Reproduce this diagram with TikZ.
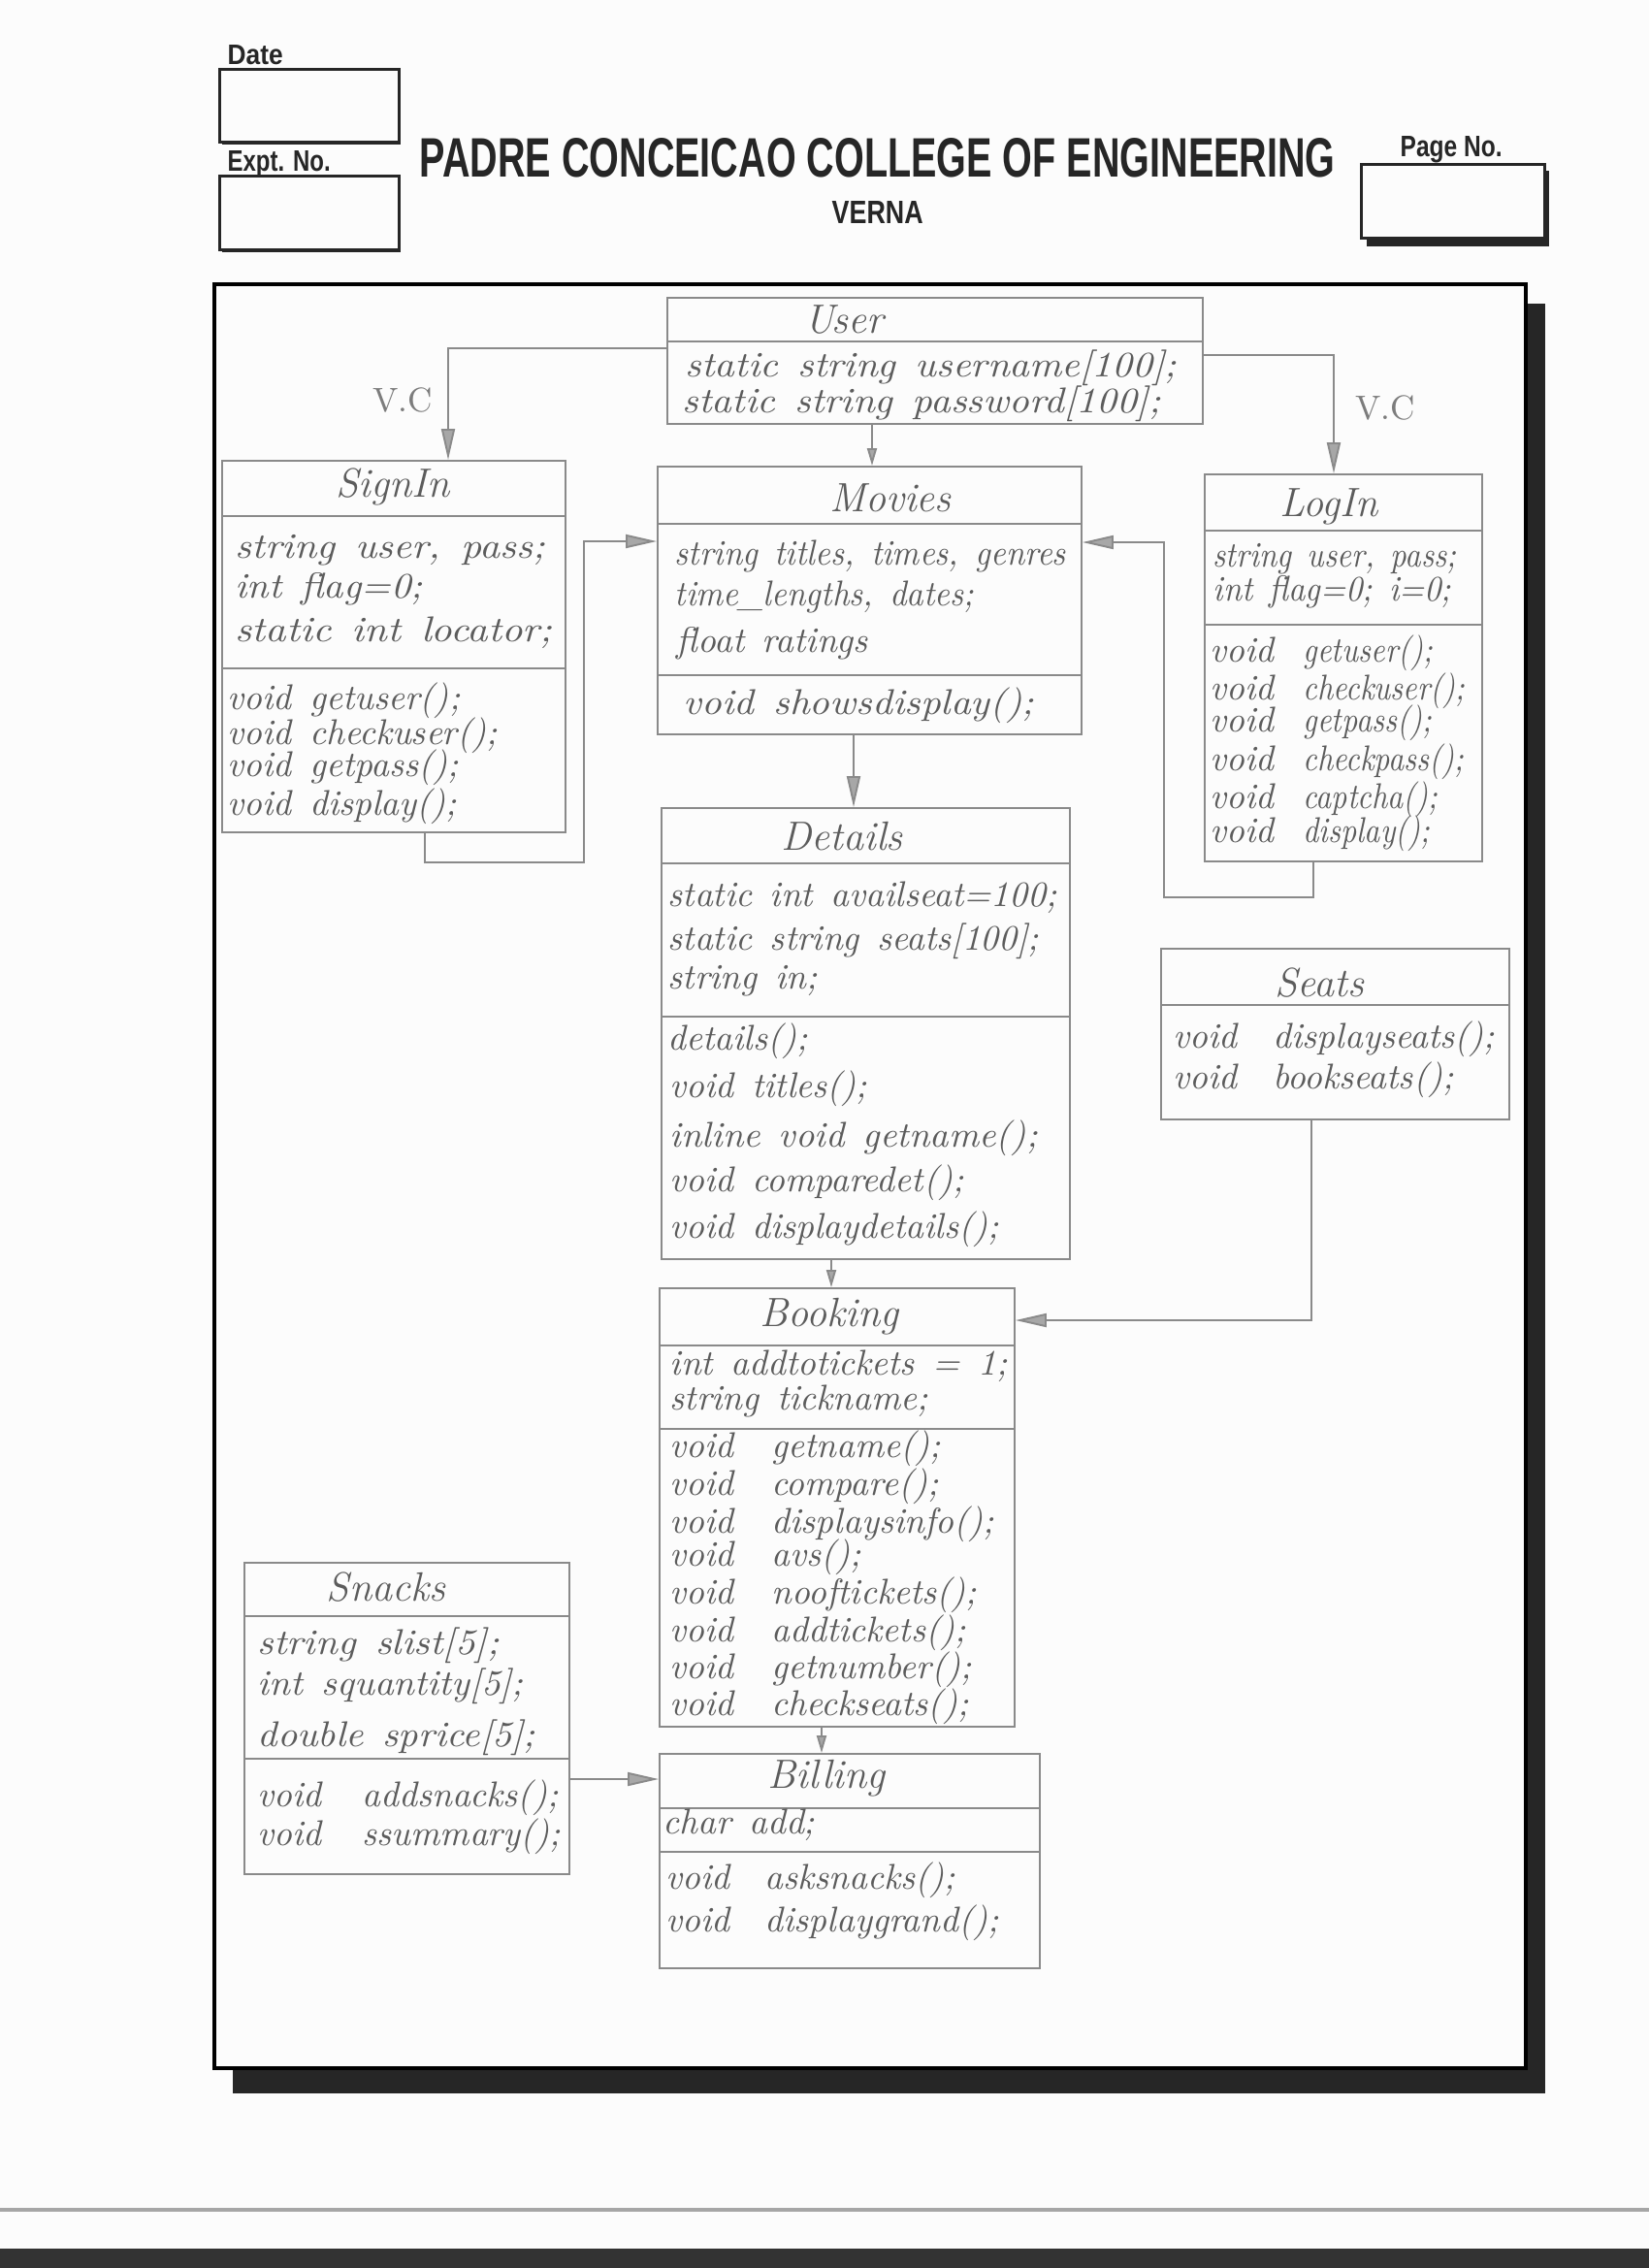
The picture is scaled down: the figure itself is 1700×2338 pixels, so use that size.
\documentclass[tikz,border=0pt]{standalone}
\usepackage{fontspec}
\newfontfamily\headfont{Liberation Sans}
\usetikzlibrary{arrows.meta}

\definecolor{pencil}{RGB}{138,138,138}
\definecolor{ink}{RGB}{92,92,92}
\definecolor{printink}{RGB}{38,38,38}
\definecolor{paper}{RGB}{252,252,252}

\newcommand\memberfont{\fontsize{10.5}{12}\selectfont\itshape\spaceskip=0.5em plus 0.1em\relax}
\newcommand\namefont{\fontsize{12}{13}\selectfont\itshape}
% fixed-width "void" column used in aligned method lists
\newcommand\vcol[1]{\makebox[#1][l]{void}}
% horizontal squeeze / stretch of one written line
\newcommand\hsq[2]{\scalebox{#1}[1]{#2}}

\tikzset{
  x=0.1mm, y=-0.1mm,
  pline/.style={draw=pencil, line width=0.55pt},
  classbox/.style={draw=pencil, line width=0.55pt, rectangle, inner sep=0pt, anchor=north west},
  member/.style={anchor=west, inner sep=0pt, text=ink, font=\memberfont, text height=2.3mm, text depth=0.7mm},
  cname/.style={anchor=center, inner sep=0pt, text=ink, font=\namefont},
  vclabel/.style={anchor=center, inner sep=0pt, text=pencil!90!black, font=\fontsize{10}{11}\selectfont},
  hdrbox/.style={draw=printink, line width=0.9pt, fill=paper, rectangle, inner sep=0pt, anchor=north west},
  hdrtext/.style={anchor=base west, inner sep=0pt, text=printink},
  assoc/.style={draw=pencil, line width=0.55pt,
    -{Triangle[length=3.2mm,width=1.4mm,fill=pencil!75,color=pencil]}},
  assocsmall/.style={draw=pencil, line width=0.55pt,
    -{Triangle[length=1.8mm,width=1.0mm,fill=pencil!75,color=pencil]}},
}

\begin{document}
\begin{tikzpicture}
% sheet
\fill[paper] (0,0) rectangle (1700,2338);
\useasboundingbox (0,0) rectangle (1700,2338);

% ---------- printed header ----------
\node[hdrtext] (datelbl) at (234,66) {\resizebox{5.7mm}{2.0mm}{\headfont\bfseries Date}};
\fill[printink] (229,74) rectangle (413,149);
\node[hdrbox, minimum width=18.5mm, minimum height=7.5mm] (datebox) at (225,70) {};
\node[hdrtext] (exptlbl) at (234,176) {\resizebox{10.6mm}{2.1mm}{\headfont\bfseries Expt. No.}};
\fill[printink] (229,184) rectangle (413,260);
\node[hdrbox, minimum width=18.5mm, minimum height=7.6mm] (exptbox) at (225,180) {};
\node[hdrtext] (college) at (432,182) {\resizebox{94.4mm}{4.0mm}{\headfont\bfseries PADRE CONCEICAO COLLEGE OF ENGINEERING}};
\node[hdrtext] (verna) at (857,230) {\resizebox{9.4mm}{2.3mm}{\headfont\bfseries VERNA}};
\node[hdrtext] (pagelbl) at (1443,161) {\resizebox{10.5mm}{2.1mm}{\headfont\bfseries Page No.}};
\fill[printink] (1409,176) rectangle (1597,254);
\node[hdrbox, minimum width=18.9mm, minimum height=7.6mm] (pagebox) at (1402,168) {};

% ---------- page frame with its shadow ----------
\fill[printink] (240,2132) rectangle (1593,2158);
\fill[printink] (1573,313) rectangle (1593,2158);
\draw[black, line width=1.1pt, fill=paper] (221,293) rectangle (1573,2132);

% bottom edge of the sheet
\draw[gray!70, line width=0.9pt] (0,2278) -- (1700,2278);
\fill[black!80] (0,2318) rectangle (1700,2338);

% ---------- classes ----------
% User
\node[classbox, minimum width=55.2mm, minimum height=13.0mm] (user) at (687,306) {};
\draw[pline] (user.west |- 0,352) -- (user.east |- 0,352);
\node[cname] (userN) at (870,330) {User};
\node[member] (user1) at (706,380) {\hsq{1.1}{static string username[100];}};
\node[member] (user2) at (703,417) {\hsq{1.1}{static string password[100];}};

% SignIn
\node[classbox, minimum width=35.4mm, minimum height=38.3mm] (signin) at (228,474) {};
\draw[pline] (signin.west |- 0,532) -- (signin.east |- 0,532);
\draw[pline] (signin.west |- 0,689) -- (signin.east |- 0,689);
\node[cname] (signinN) at (405,502) {SignIn};
\node[member] (si1) at (242,567) {\hsq{1.12}{string user, pass;}};
\node[member] (si2) at (242,608) {\hsq{1.08}{int flag=0;}};
\node[member] (si3) at (242,653) {\hsq{1.14}{static int locator;}};
\node[member] (si4) at (234,723) {void getuser();};
\node[member] (si5) at (234,759) {void checkuser();};
\node[member] (si6) at (234,792) {void getpass();};
\node[member] (si7) at (234,832) {void display();};

% Movies
\node[classbox, minimum width=43.7mm, minimum height=27.6mm] (movies) at (677,480) {};
\draw[pline] (movies.west |- 0,540) -- (movies.east |- 0,540);
\draw[pline] (movies.west |- 0,696) -- (movies.east |- 0,696);
\node[cname] (moviesN) at (918,513) {Movies};
\node[member] (mv1) at (695,574) {\hsq{0.93}{string titles, times, genres}};
\node[member] (mv2) at (695,616) {\hsq{0.93}{time\_lengths, dates;}};
\node[member] (mv3) at (697,664) {float ratings};
\node[member] (mv4) at (704,728) {\hsq{1.1}{void showsdisplay();}};

% LogIn
\node[classbox, minimum width=28.6mm, minimum height=39.9mm] (login) at (1241,488) {};
\draw[pline] (login.west |- 0,547) -- (login.east |- 0,547);
\draw[pline] (login.west |- 0,644) -- (login.east |- 0,644);
\node[cname] (loginN) at (1370,522) {LogIn};
\node[member] (li1) at (1250,576) {\hsq{0.88}{string user, pass;}};
\node[member] (li2) at (1250,611) {\hsq{0.92}{int flag=0; i=0;}};
\node[member] (li3) at (1247,674) {\vcol{9.6mm}\hsq{0.86}{getuser();}};
\node[member] (li4) at (1247,713) {\vcol{9.6mm}\hsq{0.86}{checkuser();}};
\node[member] (li5) at (1247,746) {\vcol{9.6mm}\hsq{0.86}{getpass();}};
\node[member] (li6) at (1247,786) {\vcol{9.6mm}\hsq{0.86}{checkpass();}};
\node[member] (li7) at (1247,825) {\vcol{9.6mm}\hsq{0.86}{captcha();}};
\node[member] (li8) at (1247,860) {\vcol{9.6mm}\hsq{0.86}{display();}};

% Details
\node[classbox, minimum width=42.1mm, minimum height=46.5mm] (details) at (681,832) {};
\draw[pline] (details.west |- 0,890) -- (details.east |- 0,890);
\draw[pline] (details.west |- 0,1048) -- (details.east |- 0,1048);
\node[cname] (detailsN) at (868,862) {Details};
\node[member] (dt1) at (688,926) {static int availseat=100;};
\node[member] (dt2) at (688,971) {static string seats[100];};
\node[member] (dt3) at (688,1011) {string in;};
\node[member] (dt4) at (688,1074) {details();};
\node[member] (dt5) at (690,1123) {void titles();};
\node[member] (dt6) at (690,1174) {\hsq{1.03}{inline void getname();}};
\node[member] (dt7) at (690,1220) {void comparedet();};
\node[member] (dt8) at (690,1268) {void displaydetails();};

% Seats
\node[classbox, minimum width=35.9mm, minimum height=17.6mm] (seats) at (1196,977) {};
\draw[pline] (seats.west |- 0,1036) -- (seats.east |- 0,1036);
\node[cname] (seatsN) at (1360,1013) {Seats};
\node[member] (se1) at (1209,1072) {\vcol{10.3mm}displayseats();};
\node[member] (se2) at (1209,1114) {\vcol{10.3mm}bookseats();};

% Booking
\node[classbox, minimum width=36.6mm, minimum height=45.2mm] (booking) at (679,1327) {};
\draw[pline] (booking.west |- 0,1387) -- (booking.east |- 0,1387);
\draw[pline] (booking.west |- 0,1473) -- (booking.east |- 0,1473);
\node[cname] (bookingN) at (855,1357) {Booking};
\node[member] (bk1) at (690,1409) {int addtotickets = 1;};
\node[member] (bk2) at (690,1445) {string tickname;};
\node[member] (bk3) at (690,1494) {\vcol{10.5mm}getname();};
\node[member] (bk4) at (690,1533) {\vcol{10.5mm}compare();};
\node[member] (bk5) at (690,1572) {\vcol{10.5mm}displaysinfo();};
\node[member] (bk6) at (690,1606) {\vcol{10.5mm}avs();};
\node[member] (bk7) at (690,1645) {\vcol{10.5mm}nooftickets();};
\node[member] (bk8) at (690,1684) {\vcol{10.5mm}addtickets();};
\node[member] (bk9) at (690,1722) {\vcol{10.5mm}getnumber();};
\node[member] (bk10) at (690,1760) {\vcol{10.5mm}checkseats();};

% Billing
\node[classbox, minimum width=39.2mm, minimum height=22.1mm] (billing) at (679,1807) {};
\draw[pline] (billing.west |- 0,1864) -- (billing.east |- 0,1864);
\draw[pline] (billing.west |- 0,1909) -- (billing.east |- 0,1909);
\node[cname] (billingN) at (852,1833) {Billing};
\node[member] (bl1) at (683,1882) {char add;};
\node[member] (bl2) at (686,1939) {\vcol{10.2mm}asksnacks();};
\node[member] (bl3) at (686,1983) {\vcol{10.2mm}displaygrand();};

% Snacks
\node[classbox, minimum width=33.5mm, minimum height=32.1mm] (snacks) at (251,1610) {};
\draw[pline] (snacks.west |- 0,1666) -- (snacks.east |- 0,1666);
\draw[pline] (snacks.west |- 0,1813) -- (snacks.east |- 0,1813);
\node[cname] (snacksN) at (398,1636) {Snacks};
\node[member] (sn1) at (265,1697) {\hsq{1.1}{string slist[5];}};
\node[member] (sn2) at (265,1739) {\hsq{1.05}{int squantity[5];}};
\node[member] (sn3) at (265,1792) {\hsq{1.08}{double sprice[5];}};
\node[member] (sn4) at (265,1854) {\vcol{10.8mm}addsnacks();};
\node[member] (sn5) at (265,1894) {\vcol{10.8mm}ssummary();};

% ---------- connectors ----------
\draw[assoc] (user.west |- 0,359) -| (462,0 |- signin.north);
\draw[assoc] (user.east |- 0,366) -| (1375,0 |- login.north);
\node[vclabel] (vcleft) at (415,412) {V.C};
\node[vclabel] (vcright) at (1428,420) {V.C};
\draw[assocsmall] (899,0 |- user.south) -- (899,0 |- movies.north);
\draw[assoc] (438,0 |- signin.south) |- (602,889) |- (movies.west |- 0,558);
\draw[assoc] (1354,0 |- login.south) |- (1200,925) |- (movies.east |- 0,559);
\draw[assoc] (880,0 |- movies.south) -- (880,0 |- details.north);
\draw[assocsmall] (857,0 |- details.south) -- (857,0 |- booking.north);
\draw[assoc] (1352,0 |- seats.south) |- (booking.east |- 0,1361);
\draw[assocsmall] (847,0 |- booking.south) -- (847,0 |- billing.north);
\draw[assoc] (snacks.east |- 0,1834) -- (billing.west |- 0,1834);
\end{tikzpicture}
\end{document}
